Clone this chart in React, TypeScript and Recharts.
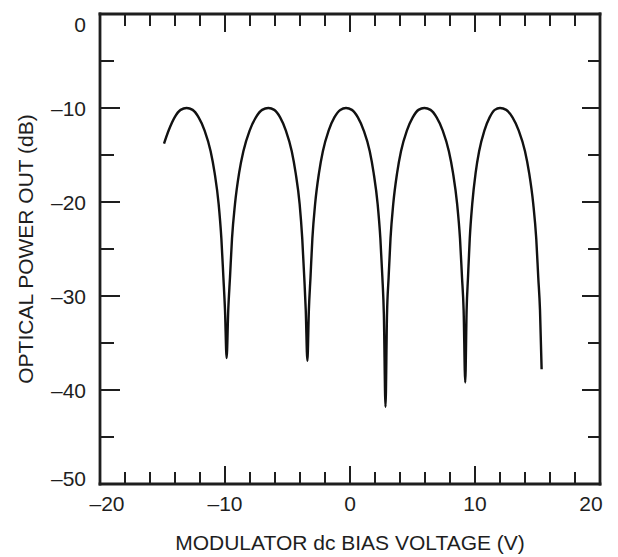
import React from 'react';
import { LineChart, Line, XAxis, YAxis } from 'recharts';

// Curve, one lobe (null to null) per pair of arrays
const lobe1Volts = [-14.88, -14.51, -14.03, -13.55, -13.07, -12.59, -12.11, -11.63, -11.15, -10.83, -10.51, -10.29, -10.13, -10.0, -9.87];
const lobe1Power = [-13.8, -12.4, -11.0, -10.2, -10.0, -10.2, -11.0, -12.4, -14.6, -16.9, -20.2, -23.9, -28.0, -31.5, -36.6];

const lobe2Volts = [-9.74, -9.6, -9.44, -9.2, -8.87, -8.53, -8.03, -7.53, -7.03, -6.53, -6.06, -5.59, -5.13, -4.66, -4.35, -4.03, -3.82, -3.66, -3.54, -3.41];
const lobe2Power = [-31.5, -28.0, -23.9, -20.2, -16.9, -14.6, -12.4, -11.0, -10.2, -10.0, -10.2, -11.0, -12.4, -14.6, -16.9, -20.2, -23.9, -28.0, -31.5, -36.9];

const lobe3Volts = [-3.29, -3.16, -3.01, -2.79, -2.48, -2.17, -1.71, -1.25, -0.78, -0.32, 0.15, 0.63, 1.1, 1.58, 1.89, 2.21, 2.43, 2.59, 2.71, 2.84];
const lobe3Power = [-31.5, -28.0, -23.9, -20.2, -16.9, -14.6, -12.4, -11.0, -10.2, -10.0, -10.2, -11.0, -12.4, -14.6, -16.9, -20.2, -23.9, -28.0, -32.0, -41.8];

const lobe4Volts = [2.96, 3.09, 3.24, 3.46, 3.77, 4.08, 4.55, 5.02, 5.48, 5.95, 6.44, 6.93, 7.42, 7.91, 8.24, 8.57, 8.8, 8.96, 9.09, 9.22];
const lobe4Power = [-32.0, -28.0, -23.9, -20.2, -16.9, -14.6, -12.4, -11.0, -10.2, -10.0, -10.2, -11.0, -12.4, -14.6, -16.9, -20.2, -23.9, -28.0, -31.5, -39.2];

const lobe5Volts = [9.33, 9.44, 9.58, 9.78, 10.05, 10.33, 10.75, 11.17, 11.58, 12.0, 12.5, 13.0, 13.5, 14.0, 14.33, 14.66, 14.9, 15.06, 15.2, 15.33];
const lobe5Power = [-31.5, -28.0, -23.9, -20.2, -16.9, -14.6, -12.4, -11.0, -10.2, -10.0, -10.2, -11.0, -12.4, -14.6, -16.9, -20.2, -23.9, -28.0, -31.5, -37.8];

const xAllTicks = [-20, -18, -16, -14, -12, -10, -8, -6, -4, -2, 0, 2, 4, 6, 8, 10, 12, 14, 16, 18, 20];
const xMajorTicks = [-20, -10, 0, 10, 20];
const xTickLabels = ['\u201320', '\u201310', '0', '10', '20'];

const yAllTicks = [-50, -45, -40, -35, -30, -25, -20, -15, -10, -5, 0];
const yMajorTicks = [-50, -40, -30, -20, -10, 0];
const yTickLabels = ['\u201350', '\u201340', '\u201330', '\u201320', '\u201310', '0'];

const xTitle = 'MODULATOR dc BIAS VOLTAGE (V)';
const yTitle = 'OPTICAL POWER OUT (dB)';

const lobes: [number[], number[]][] = [
  [lobe1Volts, lobe1Power],
  [lobe2Volts, lobe2Power],
  [lobe3Volts, lobe3Power],
  [lobe4Volts, lobe4Power],
  [lobe5Volts, lobe5Power],
];
const data = lobes.flatMap(([vs, ps]) => vs.map((v, i) => ({ v, p: ps[i] })));

const INK = '#1e1e1e';
const FONT = '"Liberation Sans", Arial, Helvetica, sans-serif';
const MAJOR = 18;
const MINOR = 12;

const BottomTick = (props: any) => {
  const { x, y, payload } = props;
  const v = payload.value;
  const i = xMajorTicks.indexOf(v);
  const major = i >= 0;
  const dx = v === xMajorTicks[0] ? 7 : v === xMajorTicks[xMajorTicks.length - 1] ? -9 : 0;
  return (
    <g>
      <line x1={x} x2={x} y1={y} y2={y - (major ? MAJOR : MINOR)} stroke={INK} strokeWidth={2} />
      {major && (
        <text x={x + dx} y={y + 27} textAnchor="middle" fontFamily={FONT} fontSize={21} fill={INK}>
          {xTickLabels[i]}
        </text>
      )}
    </g>
  );
};

const TopTick = (props: any) => {
  const { x, y, payload } = props;
  const major = xMajorTicks.indexOf(payload.value) >= 0;
  return <line x1={x} x2={x} y1={y} y2={y + (major ? MAJOR : MINOR)} stroke={INK} strokeWidth={2} />;
};

const LeftTick = (props: any) => {
  const { x, y, payload } = props;
  const v = payload.value;
  const i = yMajorTicks.indexOf(v);
  const major = i >= 0;
  const dy = v === yMajorTicks[yMajorTicks.length - 1] ? 18 : v === yMajorTicks[0] ? 2 : 7.5;
  return (
    <g>
      <line x1={x} x2={x + (major ? MAJOR + 2 : MINOR + 2)} y1={y} y2={y} stroke={INK} strokeWidth={2} />
      {major && (
        <text x={x - 14} y={y + dy} textAnchor="end" fontFamily={FONT} fontSize={21} fill={INK}>
          {yTickLabels[i]}
        </text>
      )}
    </g>
  );
};

const RightTick = (props: any) => {
  const { x, y, payload } = props;
  const major = yMajorTicks.indexOf(payload.value) >= 0;
  return <line x1={x} x2={x - (major ? MAJOR : MINOR)} y1={y} y2={y} stroke={INK} strokeWidth={2} />;
};

const axisLineStyle = { stroke: INK, strokeWidth: 2.8, strokeLinecap: 'square' as const };

const XTitle = (props: any) => {
  const vb = props.viewBox || {};
  return (
    <text x={vb.x + vb.width / 2} y={550} textAnchor="middle" fontFamily={FONT} fontSize={21} fill={INK}>
      {xTitle}
    </text>
  );
};

const YTitle = (props: any) => {
  const vb = props.viewBox || {};
  const cy = vb.y + vb.height / 2;
  return (
    <text transform={`translate(33, ${cy}) rotate(-90)`} x={0} y={0} textAnchor="middle" fontFamily={FONT} fontSize={21} fill={INK}>
      {yTitle}
    </text>
  );
};

export default function App() {
  return (
    <div style={{ position: 'fixed', left: 0, top: 0, width: 618, height: 557, background: '#fff' }}>
      <LineChart width={618} height={557} data={data} margin={{ top: 13, right: 17, bottom: 0, left: 0 }}>
        <XAxis
          dataKey="v"
          type="number"
          domain={[-20, 20]}
          allowDataOverflow
          ticks={xAllTicks}
          interval={0}
          height={73}
          tickSize={0}
          tickMargin={0}
          tickLine={false}
          axisLine={axisLineStyle}
          tick={(p: any) => <BottomTick {...p} />}
          label={(p: any) => <XTitle {...p} />}
        />
        <XAxis
          xAxisId="top"
          dataKey="v"
          orientation="top"
          type="number"
          domain={[-20, 20]}
          allowDataOverflow
          ticks={xAllTicks}
          interval={0}
          height={1}
          tickSize={0}
          tickMargin={0}
          tickLine={false}
          axisLine={axisLineStyle}
          tick={(p: any) => <TopTick {...p} />}
        />
        <YAxis
          type="number"
          domain={[-50, 0]}
          allowDataOverflow
          ticks={yAllTicks}
          interval={0}
          width={100}
          tickSize={0}
          tickMargin={0}
          tickLine={false}
          axisLine={axisLineStyle}
          tick={(p: any) => <LeftTick {...p} />}
          label={(p: any) => <YTitle {...p} />}
        />
        <YAxis
          yAxisId="right"
          orientation="right"
          type="number"
          domain={[-50, 0]}
          allowDataOverflow
          ticks={yAllTicks}
          interval={0}
          width={1}
          tickSize={0}
          tickMargin={0}
          tickLine={false}
          axisLine={axisLineStyle}
          tick={(p: any) => <RightTick {...p} />}
        />
        {/* invisible companion so the top frame axis gets a numeric scale */}
        <Line
          xAxisId="top"
          yAxisId="right"
          dataKey="p"
          type="linear"
          stroke="none"
          strokeOpacity={0}
          dot={false}
          activeDot={false}
          legendType="none"
          isAnimationActive={false}
        />
        <Line
          dataKey="p"
          type="monotone"
          stroke="#111"
          strokeWidth={2.4}
          dot={false}
          activeDot={false}
          isAnimationActive={false}
        />
      </LineChart>
    </div>
  );
}
